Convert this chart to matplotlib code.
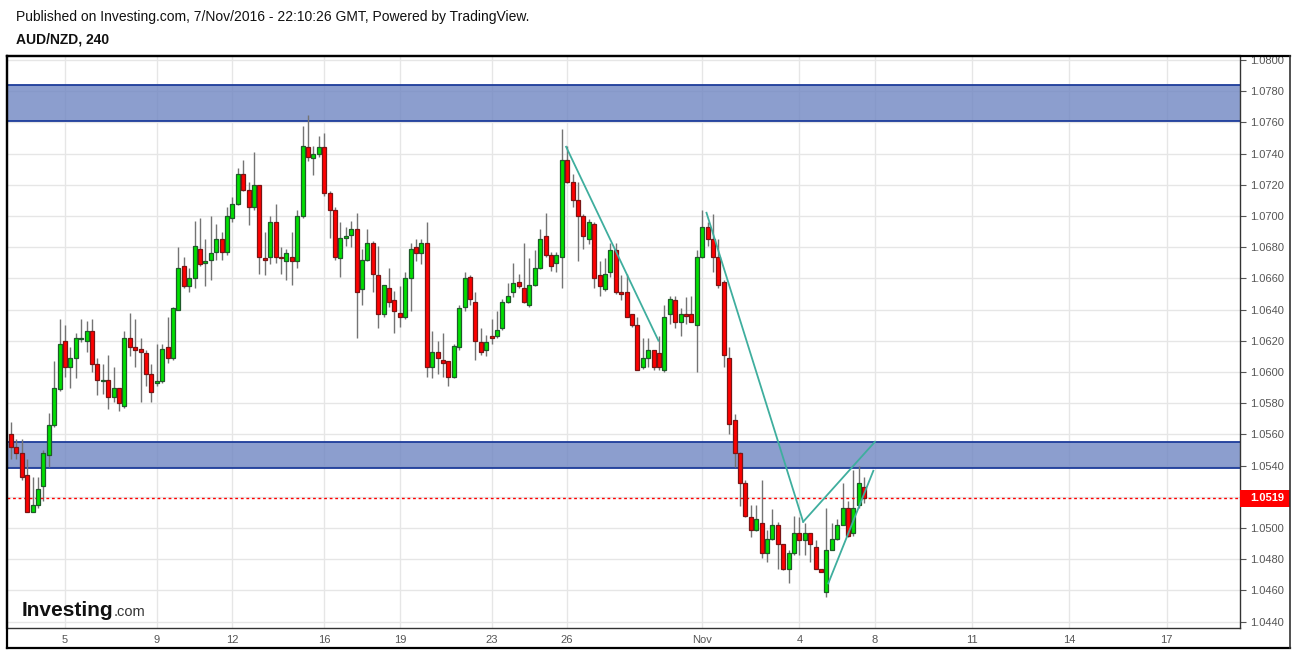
import numpy as np
import matplotlib.pyplot as plt
from matplotlib.lines import Line2D
from matplotlib.patches import Rectangle
import matplotlib.transforms as mtransforms

plt.rcParams['font.family'] = ['Liberation Sans', 'DejaVu Sans']

# AUD/NZD 240 min candles
opens = [1.0560, 1.0552, 1.0548, 1.0534, 1.0510, 1.0515, 1.0527, 1.0547, 1.0566, 1.0589,
         1.0620, 1.0603, 1.0609, 1.0621, 1.0620, 1.0626, 1.0605, 1.0594, 1.0595, 1.0584,
         1.0590, 1.0578, 1.0622, 1.0616, 1.0615, 1.0612, 1.0599, 1.0593, 1.0594, 1.0616,
         1.0609, 1.0640, 1.0668, 1.0655, 1.0660, 1.0679, 1.0670, 1.0672, 1.0677, 1.0685,
         1.0677, 1.0699, 1.0708, 1.0727, 1.0717, 1.0706, 1.0720, 1.0673, 1.0674, 1.0696,
         1.0674, 1.0671, 1.0674, 1.0671, 1.0700, 1.0744, 1.0737, 1.0740, 1.0744, 1.0715,
         1.0704, 1.0673, 1.0686, 1.0688, 1.0692, 1.0653, 1.0672, 1.0683, 1.0662, 1.0637,
         1.0654, 1.0646, 1.0638, 1.0635, 1.0660, 1.0680, 1.0676, 1.0683, 1.0603, 1.0613,
         1.0608, 1.0607, 1.0597, 1.0616, 1.0642, 1.0661, 1.0645, 1.0619, 1.0614, 1.0623,
         1.0623, 1.0628, 1.0645, 1.0651, 1.0658, 1.0654, 1.0643, 1.0656, 1.0667, 1.0687,
         1.0675, 1.0670, 1.0674, 1.0736, 1.0722, 1.0710, 1.0700, 1.0685, 1.0695, 1.0662,
         1.0653, 1.0664, 1.0678, 1.0651, 1.0651, 1.0637, 1.0630, 1.0603, 1.0609, 1.0614,
         1.0612, 1.0601, 1.0637, 1.0646, 1.0632, 1.0637, 1.0637, 1.0630, 1.0674, 1.0693,
         1.0685, 1.0674, 1.0658, 1.0609, 1.0569, 1.0548, 1.0529, 1.0507, 1.0499, 1.0503,
         1.0484, 1.0493, 1.0502, 1.0490, 1.0474, 1.0484, 1.0497, 1.0492, 1.0497, 1.0488,
         1.0474, 1.0459, 1.0486, 1.0493, 1.0502, 1.0513, 1.0497, 1.0515, 1.0526]
highs = [1.0568, 1.0557, 1.0557, 1.0544, 1.0533, 1.0533, 1.0550, 1.0574, 1.0607, 1.0634,
         1.0630, 1.0616, 1.0625, 1.0634, 1.0633, 1.0634, 1.0609, 1.0605, 1.0611, 1.0603,
         1.0590, 1.0626, 1.0638, 1.0634, 1.0622, 1.0614, 1.0605, 1.0618, 1.0618, 1.0635,
         1.0642, 1.0680, 1.0674, 1.0667, 1.0697, 1.0699, 1.0685, 1.0700, 1.0695, 1.0690,
         1.0706, 1.0712, 1.0731, 1.0736, 1.0722, 1.0741, 1.0720, 1.0690, 1.0700, 1.0708,
         1.0680, 1.0679, 1.0690, 1.0704, 1.0758, 1.0765, 1.0745, 1.0751, 1.0753, 1.0716,
         1.0706, 1.0696, 1.0693, 1.0697, 1.0702, 1.0679, 1.0692, 1.0684, 1.0681, 1.0656,
         1.0667, 1.0652, 1.0655, 1.0664, 1.0683, 1.0685, 1.0685, 1.0696, 1.0626, 1.0620,
         1.0625, 1.0607, 1.0618, 1.0643, 1.0664, 1.0662, 1.0651, 1.0628, 1.0624, 1.0634,
         1.0639, 1.0647, 1.0657, 1.0670, 1.0663, 1.0683, 1.0673, 1.0678, 1.0692, 1.0702,
         1.0677, 1.0677, 1.0756, 1.0745, 1.0727, 1.0722, 1.0701, 1.0698, 1.0696, 1.0671,
         1.0673, 1.0683, 1.0683, 1.0662, 1.0663, 1.0637, 1.0635, 1.0622, 1.0622, 1.0614,
         1.0623, 1.0643, 1.0649, 1.0649, 1.0641, 1.0648, 1.0649, 1.0678, 1.0704, 1.0696,
         1.0701, 1.0685, 1.0659, 1.0616, 1.0573, 1.0549, 1.0531, 1.0515, 1.0515, 1.0531,
         1.0499, 1.0512, 1.0504, 1.0490, 1.0486, 1.0508, 1.0507, 1.0503, 1.0497, 1.0492,
         1.0474, 1.0513, 1.0503, 1.0506, 1.0529, 1.0517, 1.0537, 1.0540, 1.0533]
lows = [1.0544, 1.0544, 1.0531, 1.0510, 1.0510, 1.0513, 1.0517, 1.0539, 1.0565, 1.0588,
        1.0597, 1.0590, 1.0596, 1.0619, 1.0613, 1.0600, 1.0585, 1.0586, 1.0576, 1.0581,
        1.0575, 1.0577, 1.0610, 1.0603, 1.0581, 1.0591, 1.0581, 1.0591, 1.0593, 1.0606,
        1.0608, 1.0640, 1.0654, 1.0651, 1.0654, 1.0668, 1.0655, 1.0659, 1.0672, 1.0672,
        1.0675, 1.0696, 1.0707, 1.0716, 1.0694, 1.0704, 1.0663, 1.0662, 1.0669, 1.0670,
        1.0663, 1.0659, 1.0656, 1.0667, 1.0699, 1.0735, 1.0726, 1.0738, 1.0713, 1.0686,
        1.0672, 1.0661, 1.0681, 1.0680, 1.0622, 1.0643, 1.0671, 1.0651, 1.0628, 1.0635,
        1.0642, 1.0625, 1.0629, 1.0634, 1.0639, 1.0671, 1.0669, 1.0597, 1.0596, 1.0599,
        1.0597, 1.0591, 1.0596, 1.0614, 1.0639, 1.0643, 1.0608, 1.0611, 1.0610, 1.0618,
        1.0622, 1.0627, 1.0644, 1.0648, 1.0654, 1.0644, 1.0642, 1.0655, 1.0666, 1.0674,
        1.0665, 1.0664, 1.0654, 1.0721, 1.0706, 1.0671, 1.0679, 1.0682, 1.0654, 1.0649,
        1.0652, 1.0661, 1.0650, 1.0646, 1.0635, 1.0629, 1.0601, 1.0602, 1.0603, 1.0601,
        1.0601, 1.0600, 1.0631, 1.0628, 1.0623, 1.0631, 1.0632, 1.0600, 1.0673, 1.0681,
        1.0664, 1.0654, 1.0603, 1.0560, 1.0539, 1.0514, 1.0507, 1.0494, 1.0498, 1.0481,
        1.0478, 1.0492, 1.0474, 1.0473, 1.0465, 1.0483, 1.0483, 1.0483, 1.0478, 1.0474,
        1.0472, 1.0456, 1.0486, 1.0492, 1.0502, 1.0494, 1.0495, 1.0513, 1.0516]
closes = [1.0552, 1.0548, 1.0533, 1.0510, 1.0515, 1.0525, 1.0548, 1.0566, 1.0590, 1.0618,
          1.0603, 1.0609, 1.0622, 1.0622, 1.0626, 1.0605, 1.0595, 1.0595, 1.0584, 1.0590,
          1.0580, 1.0622, 1.0616, 1.0614, 1.0613, 1.0599, 1.0587, 1.0594, 1.0615, 1.0609,
          1.0641, 1.0667, 1.0655, 1.0660, 1.0681, 1.0669, 1.0671, 1.0676, 1.0685, 1.0677,
          1.0700, 1.0708, 1.0727, 1.0717, 1.0706, 1.0720, 1.0674, 1.0672, 1.0696, 1.0674,
          1.0673, 1.0676, 1.0671, 1.0700, 1.0745, 1.0738, 1.0740, 1.0744, 1.0715, 1.0704,
          1.0674, 1.0686, 1.0687, 1.0692, 1.0651, 1.0672, 1.0683, 1.0663, 1.0637, 1.0656,
          1.0645, 1.0639, 1.0635, 1.0660, 1.0679, 1.0676, 1.0683, 1.0603, 1.0613, 1.0609,
          1.0606, 1.0597, 1.0617, 1.0641, 1.0660, 1.0647, 1.0620, 1.0613, 1.0619, 1.0622,
          1.0627, 1.0645, 1.0649, 1.0657, 1.0655, 1.0645, 1.0656, 1.0667, 1.0685, 1.0675,
          1.0668, 1.0675, 1.0736, 1.0722, 1.0710, 1.0700, 1.0687, 1.0696, 1.0660, 1.0655,
          1.0663, 1.0678, 1.0651, 1.0650, 1.0635, 1.0630, 1.0601, 1.0609, 1.0614, 1.0603,
          1.0603, 1.0635, 1.0647, 1.0632, 1.0637, 1.0636, 1.0632, 1.0674, 1.0693, 1.0685,
          1.0674, 1.0656, 1.0611, 1.0567, 1.0548, 1.0529, 1.0508, 1.0499, 1.0506, 1.0484,
          1.0493, 1.0502, 1.0490, 1.0474, 1.0484, 1.0497, 1.0492, 1.0497, 1.0490, 1.0474,
          1.0472, 1.0486, 1.0493, 1.0502, 1.0513, 1.0495, 1.0513, 1.0529, 1.0519]

date_idx = [10, 27, 41, 58, 72, 89, 103, 128, 146, 160, 178, 196, 214]
date_lbl = ['5', '9', '12', '16', '19', '23', '26', 'Nov', '4', '8', '11', '14', '17']

zones = [(1.07609, 1.07840), (1.05383, 1.05553)]
last_price = 1.0519

# hand drawn trend lines (bar index, price)
trend_x = [[102.8, 119.9], [128.8, 146.7], [146.7, 160.0], [151.35, 159.7]]
trend_y = [[1.07444, 1.06201], [1.07021, 1.05040], [1.05040, 1.05553], [1.04645, 1.05367]]

W, H = 1295, 651
fig = plt.figure(figsize=(W / 100, H / 100), dpi=100)
fig.patch.set_facecolor('white')
L, R, T, B = 7, 1240, 56, 628
ax = fig.add_axes([L / W, 1 - B / H, (R - L) / W, (B - T) / H])

o = np.array(opens); h = np.array(highs); l = np.array(lows); c = np.array(closes)
x = np.arange(len(o))
up = c >= o

# grid
yt = np.round(np.arange(1.0440, 1.08001, 0.002), 4)
for v in yt:
    ax.axhline(v, color='#e6e6e6', lw=1, zorder=0)
for v in date_idx:
    ax.axvline(v, color='#e6e6e6', lw=1, zorder=0)

# zones
for lo, hi in zones:
    ax.axhspan(lo, hi, facecolor='#7086c2', alpha=0.8, lw=0, zorder=1)
    ax.axhline(lo, color='#1d3c9a', lw=1.3, zorder=1.1)
    ax.axhline(hi, color='#1d3c9a', lw=1.3, zorder=1.1)

# candles
ax.vlines(x, l, h, color='#747474', lw=1, zorder=2)
body_lo = np.minimum(o, c)
body_h = np.maximum(np.abs(c - o), 0.00006)
ax.bar(x[up], body_h[up], bottom=body_lo[up], width=0.72, color='#00e000',
       edgecolor='#1f5a2a', linewidth=0.9, zorder=3)
ax.bar(x[~up], body_h[~up], bottom=body_lo[~up], width=0.72, color='#ff0000',
       edgecolor='#7a1515', linewidth=0.9, zorder=3)

# last price line
ax.axhline(last_price, color='#ff0000', lw=1, ls=(0, (2, 2)), zorder=2.5)

for tx, ty in zip(trend_x, trend_y):
    ax.plot(tx, ty, color='#3fae9e', lw=1.3, zorder=4)

ax.set_xlim(-0.74, 227.6)
ax.set_ylim(1.04359, 1.08026)

ax.yaxis.tick_right()
ax.set_yticks(yt)
ax.set_yticklabels(['' if abs(v - 1.052) < 1e-6 else '%.4f' % v for v in yt])
ax.tick_params(axis='y', length=4, width=0.8, color='#555555', labelsize=8,
               labelcolor='#555555', pad=3)
ax.set_xticks(date_idx)
ax.set_xticklabels(date_lbl)
ax.tick_params(axis='x', length=0, labelsize=8, labelcolor='#555555', pad=5)

for s in ['top', 'left']:
    ax.spines[s].set_linewidth(1.6)
    ax.spines[s].set_color('black')
for s in ['right', 'bottom']:
    ax.spines[s].set_linewidth(1)
    ax.spines[s].set_color('#333333')

# last price tag on the price scale
trans = mtransforms.blended_transform_factory(ax.transAxes, ax.transData)
x1 = (1290 - L) / (R - L)
ax.add_patch(Rectangle((1.0, last_price - 0.00055), x1 - 1.0, 0.0011, transform=trans,
                       facecolor='#ff0000', edgecolor='none', clip_on=False, zorder=5))
ax.text(1.008, last_price, '%.4f' % last_price, transform=trans, color='white',
        fontsize=8, fontweight='bold', va='center', ha='left', zorder=6, clip_on=False)

# outer frame
def px_line(xs, ys, lw=1.6, col='black'):
    fig.add_artist(Line2D([v / W for v in xs], [1 - v / H for v in ys],
                          color=col, lw=lw, transform=fig.transFigure))

px_line([L, 1290], [T, T])
px_line([L, L], [T, 648])
px_line([L, 1290], [648, 648])
px_line([1290, 1290], [T, 648], lw=1.2, col='#333333')

fig.text(16 / W, 1 - 17 / H, 'Published on Investing.com, 7/Nov/2016 - 22:10:26 GMT, Powered by TradingView.',
         fontsize=10, color='#111111', va='center', ha='left')
fig.text(16 / W, 1 - 40 / H, 'AUD/NZD, 240', fontsize=10, fontweight='bold',
         color='#111111', va='center', ha='left')

# Investing.com logo
logo = fig.text(22 / W, 1 - 616 / H, 'Investing', fontsize=15, fontweight='bold',
                color='#111111', va='baseline', ha='left')
r = fig.canvas.get_renderer()
bb = logo.get_window_extent(renderer=r)
fig.text(bb.x1 / W, 1 - 616 / H, '.com', fontsize=10.5, color='#333333',
         va='baseline', ha='left')

fig.savefig('out.png', dpi=100)
